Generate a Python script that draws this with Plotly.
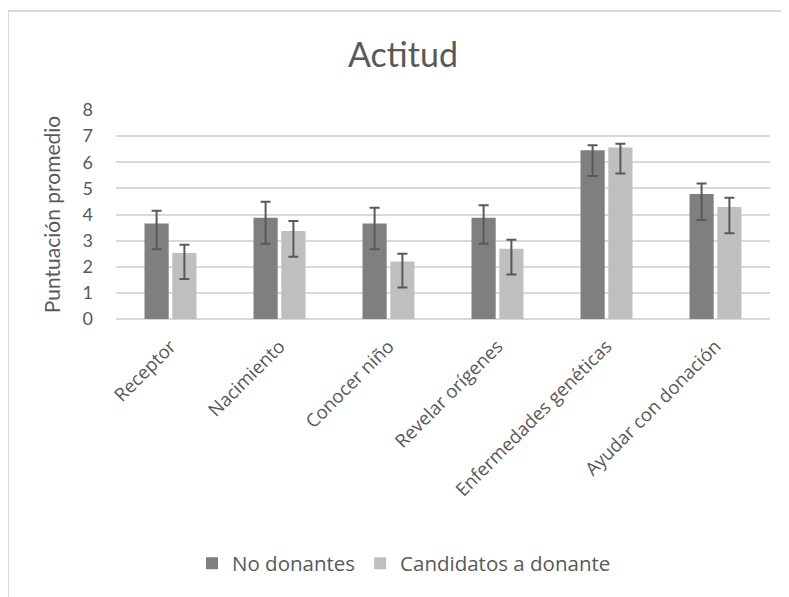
import plotly.graph_objects as go

categories = ["Receptor", "Nacimiento", "Conocer niño", "Revelar orígenes",
              "Enfermedades genéticas", "Ayudar con donación"]
series_names = ["No donantes", "Candidatos a donante"]

no_donantes = [3.66, 3.88, 3.66, 3.88, 6.46, 4.78]
no_donantes_err_plus = [0.48, 0.61, 0.60, 0.47, 0.19, 0.41]
no_donantes_err_minus = [0.99, 1.00, 0.99, 1.00, 0.99, 0.99]

candidatos = [2.53, 3.37, 2.20, 2.69, 6.56, 4.29]
candidatos_err_plus = [0.31, 0.38, 0.30, 0.34, 0.15, 0.35]
candidatos_err_minus = [1.00, 0.99, 0.99, 0.99, 0.99, 1.01]

y_ticks = [0, 1, 2, 3, 4, 5, 6, 7, 8]

TEXT = "#595959"
GRID = "#d9d9d9"
FONT = "Lato, 'Open Sans', sans-serif"
FONT2 = "'Open Sans', sans-serif"

W, H = 789, 597
L, T = 108, 101.5
pw, ph = 654, 210
R, B = W - L - pw, H - T - ph
bottom = T + ph

fig = go.Figure()
fig.add_trace(go.Bar(
    x=categories, y=no_donantes, name=series_names[0],
    marker=dict(color="#7f7f7f", line=dict(width=0)),
    error_y=dict(type="data", symmetric=False, array=no_donantes_err_plus,
                 arrayminus=no_donantes_err_minus, color="#595959",
                 thickness=2, width=5),
))
fig.add_trace(go.Bar(
    x=categories, y=candidatos, name=series_names[1],
    marker=dict(color="#bfbfbf", line=dict(width=0)),
    error_y=dict(type="data", symmetric=False, array=candidatos_err_plus,
                 arrayminus=candidatos_err_minus, color="#595959",
                 thickness=2, width=5),
))

fig.update_layout(
    width=W, height=H,
    margin=dict(l=L, r=R, t=T, b=B, autoexpand=False),
    paper_bgcolor="white", plot_bgcolor="white",
    barmode="group", bargap=0.49, bargroupgap=0.13,
    font=dict(family=FONT, color=TEXT),
    title=dict(text="Actitud", x=395 / W, xanchor="center",
               y=1 - 47 / H, yanchor="middle",
               font=dict(size=34, color=TEXT, family=FONT)),
    showlegend=True,
    legend=dict(orientation="h", x=(396 - L) / pw, xanchor="center",
                y=(bottom - 557) / ph, yanchor="middle",
                font=dict(size=20.5, color=TEXT, family=FONT2),
                itemwidth=30, traceorder="normal"),
    hovermode=False,
    shapes=[dict(type="rect", xref="paper", yref="paper",
                 x0=(0 - L) / pw, x1=(820 - L) / pw,
                 y0=(bottom - 640) / ph, y1=(bottom - 2) / ph,
                 line=dict(color=GRID, width=2), layer="below")],
)
fig.update_xaxes(
    tickangle=-45, tickfont=dict(size=18.5, color=TEXT, family=FONT2),
    showgrid=False, showline=False, ticks="", zeroline=False,
    ticklabelstandoff=12,
)
fig.update_yaxes(
    range=[0, 8], tickvals=y_ticks, tickfont=dict(size=18, color=TEXT, family=FONT),
    showgrid=True, gridcolor=GRID, gridwidth=1.5, zeroline=True,
    zerolinecolor=GRID, zerolinewidth=1.5, showline=False, ticks="",
    ticklabelstandoff=22,
    title=dict(text="Puntuación promedio", font=dict(size=21, color=TEXT, family=FONT),
               standoff=16),
)

fig.write_html("out.html")
